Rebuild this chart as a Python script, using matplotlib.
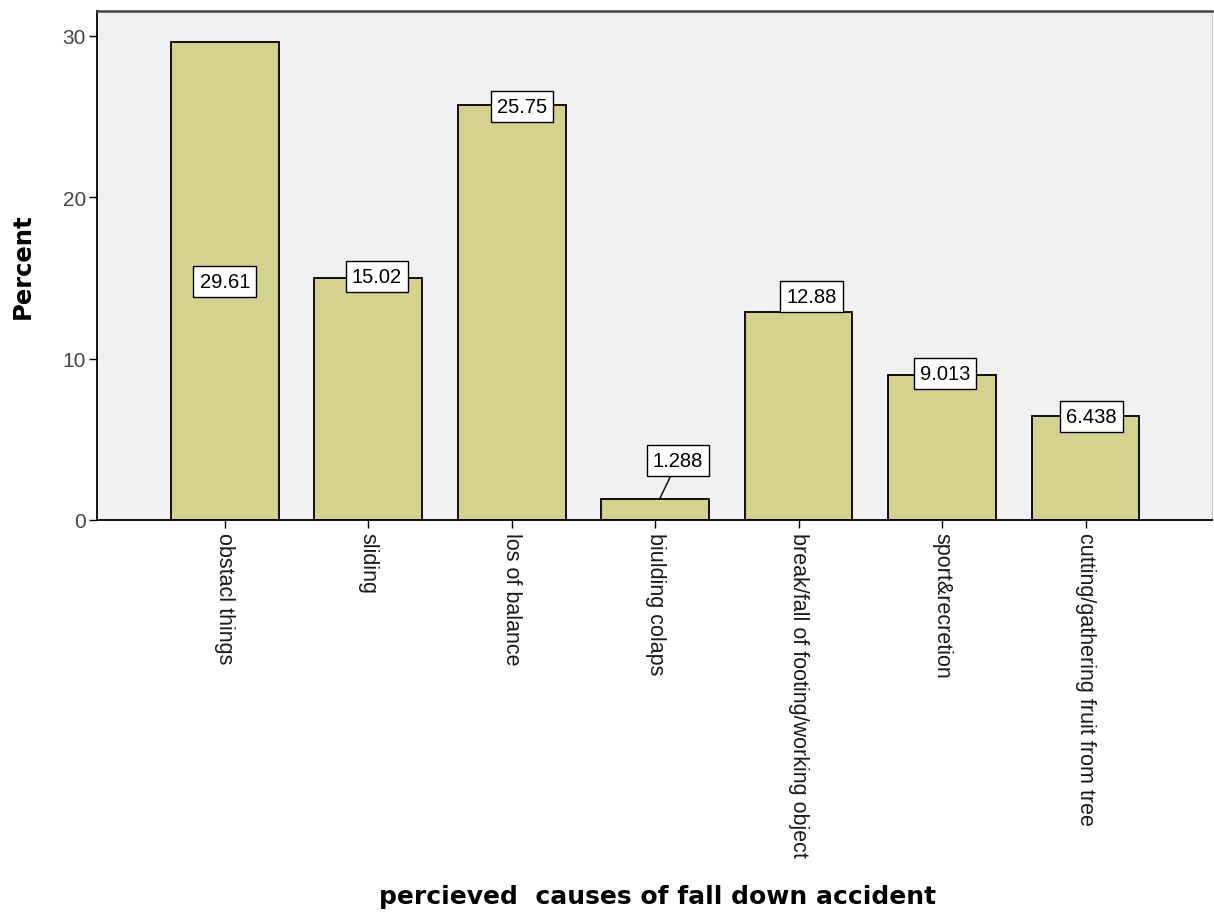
import matplotlib.pyplot as plt
import numpy as np

# percent of respondents per perceived cause
causes = [
    "obstacl things",
    "sliding",
    "los of balance",
    "biulding colaps",
    "break/fall of footing/working object",
    "sport&recretion",
    "cutting/gathering fruit from tree",
]
percent = [29.61, 15.02, 25.75, 1.288, 12.88, 9.013, 6.438]
y_ticks = [0, 10, 20, 30]

BAR_COLOR = "#d5d290"
BG_COLOR = "#f1f1f3"

plt.rcParams["font.family"] = ["Liberation Sans", "DejaVu Sans"]

fig = plt.figure(figsize=(12.14, 9.2), dpi=100)
ax = fig.add_axes([0.0799, 0.4337, 0.9184, 0.5533])
ax.set_facecolor(BG_COLOR)

x = np.arange(len(causes))
ax.bar(x, percent, width=0.75, color=BAR_COLOR, edgecolor="black", linewidth=1.3, zorder=2)

ax.set_xlim(-0.89, len(causes) - 1 + 0.88)
ax.set_ylim(0, 31.55)
ax.set_yticks(y_ticks)
ax.set_xticks(x)
ax.set_xticklabels(causes, rotation=-90, va="top", ha="center", fontsize=15.5, color="#1a1a1a")
ax.tick_params(axis="y", labelsize=15, labelcolor="#444444", length=6, width=1, direction="out", pad=2)
ax.tick_params(axis="x", length=6, width=1, direction="out", pad=3)

for side in ("left", "bottom"):
    ax.spines[side].set_linewidth(1.3)
ax.spines["top"].set_linewidth(1.8)
ax.spines["top"].set_color("#444444")
ax.spines["right"].set_color("#cccccc")

ax.set_ylabel("Percent", fontsize=17.5, fontweight="bold", family="DejaVu Sans", labelpad=20)
fig.text(0.542, 0.012, "percieved  causes of fall down accident", ha="center", va="bottom",
         fontsize=18, fontweight="bold", family="DejaVu Sans")

# value boxes: first sits mid-bar, the small one is pulled up with a leader line
box = dict(boxstyle="square,pad=0.3", fc="white", ec="black", lw=1)
label_dx = [0.0, 0.06, 0.07, 0.16, 0.09, 0.02, 0.04]
label_dy = [0.0, 0.1, -0.1, 2.4, 1.0, 0.05, -0.05]
for i, v in enumerate(percent):
    ty = v / 2 if i == 0 else v + label_dy[i]
    txt = f"{v:.4g}"
    if i == 3:
        ax.annotate(txt, xy=(i + 0.03, v), xytext=(i + label_dx[i], ty),
                    ha="center", va="center", fontsize=14.5, bbox=box, zorder=4,
                    arrowprops=dict(arrowstyle="-", color="black", lw=1, shrinkA=0, shrinkB=0))
    else:
        ax.text(i + label_dx[i], ty, txt, ha="center", va="center", fontsize=14.5, bbox=box, zorder=4)

fig.savefig("out.png", dpi=100, facecolor="white")
